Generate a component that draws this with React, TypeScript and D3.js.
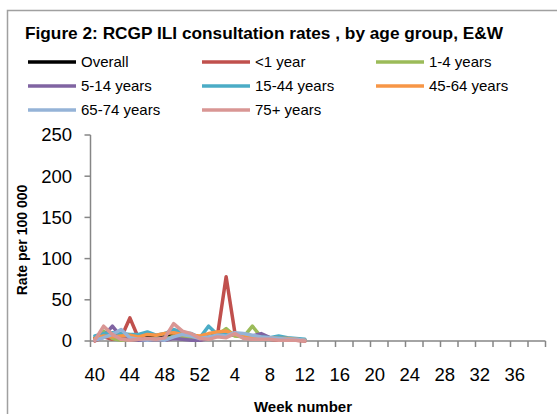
import React, { useEffect, useRef } from 'react';
import * as d3 from 'd3';

// week numbers on the category axis (season week 40 to week 39)
const weeks: number[] = [
  40, 41, 42, 43, 44, 45, 46, 47, 48, 49, 50, 51, 52,
  1, 2, 3, 4, 5, 6, 7, 8, 9, 10, 11, 12, 13, 14, 15, 16, 17, 18, 19, 20,
  21, 22, 23, 24, 25, 26, 27, 28, 29, 30, 31, 32, 33, 34, 35, 36, 37, 38, 39,
];
const weekLabels: number[] = [40, 44, 48, 52, 4, 8, 12, 16, 20, 24, 28, 32, 36];
const yTicks: number[] = [0, 50, 100, 150, 200, 250];

const seriesNames: string[] = [
  'Overall', '<1 year', '1-4 years', '5-14 years',
  '15-44 years', '45-64 years', '65-74 years', '75+ years',
];
const seriesColors: string[] = [
  '#000000', '#C0504D', '#9BBB59', '#8064A2',
  '#4BACC6', '#F79646', '#95B3D7', '#D99694',
];

// rates per 100 000, weeks 40 .. 12
const overall = [3, 6, 7, 6, 5, 4, 5, 5, 6, 9, 8, 6, 4, 7, 6, 9, 7, 5, 6, 5, 4, 3, 3, 2, 1];
const under1 = [0, 5, 2, 4, 28, 3, 1, 2, 1, 4, 5, 3, 1, 4, 6, 78, 10, 4, 3, 2, 2, 1, 1, 1, 0];
const age1to4 = [2, 12, 3, 1, 2, 1, 2, 3, 2, 6, 5, 3, 2, 5, 7, 15, 6, 5, 18, 5, 4, 3, 2, 1, 1];
const age5to14 = [1, 6, 18, 5, 2, 1, 1, 2, 1, 3, 2, 1, 1, 3, 6, 8, 9, 7, 6, 9, 4, 3, 2, 1, 1];
const age15to44 = [6, 9, 10, 9, 8, 8, 11, 7, 9, 14, 10, 9, 4, 18, 8, 9, 9, 8, 6, 5, 4, 6, 4, 3, 2];
const age45to64 = [3, 6, 5, 6, 7, 5, 8, 7, 9, 10, 8, 7, 6, 9, 11, 12, 8, 6, 5, 4, 4, 3, 3, 2, 1];
const age65to74 = [1, 4, 8, 14, 4, 2, 1, 2, 1, 5, 8, 6, 3, 5, 7, 6, 10, 9, 7, 5, 4, 3, 2, 2, 1];
const age75plus = [1, 18, 8, 2, 1, 2, 3, 2, 4, 21, 12, 9, 3, 2, 5, 4, 9, 3, 2, 2, 2, 1, 1, 1, 0];

const seriesValues: number[][] = [
  overall, under1, age1to4, age5to14, age15to44, age45to64, age65to74, age75plus,
];

const FONT = '"Liberation Sans", Arial, sans-serif';

const App = () => {
  const svgRef = useRef<SVGSVGElement>(null);

  useEffect(() => {
    const svg = d3.select(svgRef.current);
    svg.selectAll('*').remove();

    const width = 557;
    const height = 414;
    const plot = { left: 90.5, right: 545.5, top: 135, bottom: 341 };
    const axisColor = '#868686';

    svg.append('rect')
      .attr('width', width).attr('height', height)
      .attr('fill', '#ffffff');

    // chart area border
    svg.append('rect')
      .attr('x', 7.5).attr('y', 10.5)
      .attr('width', 620).attr('height', 450)
      .attr('fill', 'none')
      .attr('stroke', '#a0a0a0')
      .attr('stroke-width', 1.5);

    svg.append('text')
      .attr('x', 264).attr('y', 39)
      .attr('text-anchor', 'middle')
      .attr('textLength', 478)
      .attr('lengthAdjust', 'spacingAndGlyphs')
      .style('font-family', FONT)
      .style('font-weight', 'bold')
      .style('font-size', '16.5px')
      .text('Figure 2: RCGP ILI consultation rates , by age group, E&W');

    // legend, 3 columns
    const legCols = [28, 202, 376];
    const legRows = [62, 86, 110];
    const legend = svg.append('g');
    seriesNames.forEach((name, i) => {
      const cx = legCols[i % 3];
      const cy = legRows[Math.floor(i / 3)];
      legend.append('line')
        .attr('x1', cx).attr('x2', cx + 48)
        .attr('y1', cy).attr('y2', cy)
        .attr('stroke', seriesColors[i])
        .attr('stroke-width', 3.5);
      legend.append('text')
        .attr('x', cx + 53).attr('y', cy + 5)
        .style('font-family', FONT)
        .style('font-size', '15px')
        .text(name);
    });

    const x = d3.scaleBand<number>()
      .domain(d3.range(weeks.length))
      .range([plot.left, plot.right])
      .padding(0);

    const y = d3.scaleLinear()
      .domain([0, 250])
      .range([plot.bottom, plot.top]);

    // y axis
    const yAxis = svg.append('g');
    yAxis.append('line')
      .attr('x1', plot.left).attr('x2', plot.left)
      .attr('y1', y(250)).attr('y2', y(0))
      .attr('stroke', axisColor).attr('stroke-width', 1.5);
    yTicks.forEach(t => {
      yAxis.append('line')
        .attr('x1', plot.left - 6).attr('x2', plot.left)
        .attr('y1', y(t)).attr('y2', y(t))
        .attr('stroke', axisColor).attr('stroke-width', 1.5);
      yAxis.append('text')
        .attr('x', 72).attr('y', y(t))
        .attr('dy', '0.35em')
        .attr('text-anchor', 'end')
        .style('font-family', FONT)
        .style('font-size', '18.5px')
        .text(t);
    });

    // x axis, ticks between categories every 2 weeks
    const xAxis = svg.append('g');
    xAxis.append('line')
      .attr('x1', plot.left).attr('x2', plot.right)
      .attr('y1', y(0)).attr('y2', y(0))
      .attr('stroke', axisColor).attr('stroke-width', 1.5);
    d3.range(0, weeks.length + 1, 2).forEach(i => {
      const tx = i < weeks.length ? x(i)! : plot.right;
      xAxis.append('line')
        .attr('x1', tx).attr('x2', tx)
        .attr('y1', y(0)).attr('y2', y(0) + 6)
        .attr('stroke', axisColor).attr('stroke-width', 1.5);
    });
    weekLabels.forEach(w => {
      const idx = weeks.indexOf(w);
      xAxis.append('text')
        .attr('x', x(idx)! + x.bandwidth() / 2)
        .attr('y', 381)
        .attr('text-anchor', 'middle')
        .style('font-family', FONT)
        .style('font-size', '18.5px')
        .text(w);
    });

    svg.append('text')
      .attr('transform', 'translate(27, 240) rotate(-90)')
      .attr('text-anchor', 'middle')
      .style('font-family', FONT)
      .style('font-weight', 'bold')
      .style('font-size', '14px')
      .text('Rate per 100 000');

    svg.append('text')
      .attr('x', 303).attr('y', 412)
      .attr('text-anchor', 'middle')
      .style('font-family', FONT)
      .style('font-weight', 'bold')
      .style('font-size', '15px')
      .text('Week number');

    const line = d3.line<number>()
      .x((_, i) => x(i)! + x.bandwidth() / 2)
      .y(d => y(d));

    svg.append('g')
      .selectAll('path')
      .data(seriesValues)
      .enter()
      .append('path')
      .attr('d', d => line(d))
      .attr('fill', 'none')
      .attr('stroke', (_, i) => seriesColors[i])
      .attr('stroke-width', 3.5)
      .attr('stroke-linejoin', 'round')
      .attr('stroke-linecap', 'round');
  }, []);

  return (
    <svg
      ref={svgRef}
      width={557}
      height={414}
      style={{ position: 'absolute', left: 0, top: 0, display: 'block' }}
    />
  );
};

export default App;
